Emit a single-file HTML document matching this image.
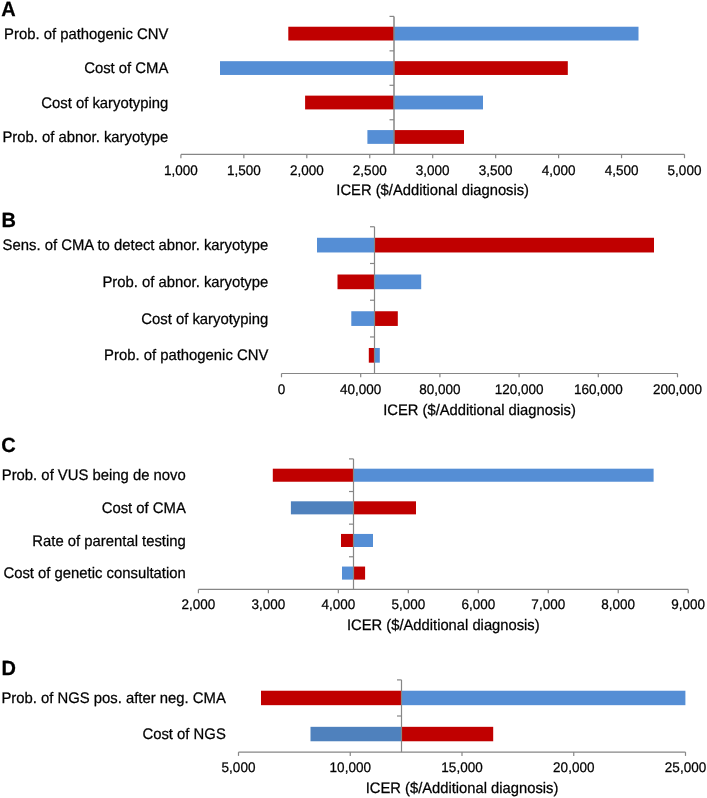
<!DOCTYPE html>
<html><head><meta charset="utf-8"><style>
html,body{margin:0;padding:0;background:#fff;}
svg{display:block;will-change:transform;}
text{font-family:"Liberation Sans",sans-serif;fill:#000;text-rendering:geometricPrecision;stroke:#000;stroke-width:0.25px;}
.let{font-size:20px;font-weight:bold;}
.lab{font-size:14.85px;text-anchor:end;}
.tick{font-size:13.5px;text-anchor:middle;}
.title{font-size:14.75px;text-anchor:middle;}
.ax{stroke:#868686;stroke-width:1.2;}
</style></head><body>
<svg width="707" height="798" viewBox="0 0 707 798">
<text transform="translate(1.20 16.00) scale(1 1.03)" class="let">A</text>
<text transform="translate(168.30 38.73) scale(1 1.03)" class="lab">Prob. of pathogenic CNV</text>
<text transform="translate(168.30 73.17) scale(1 1.03)" class="lab">Cost of CMA</text>
<text transform="translate(168.30 107.62) scale(1 1.03)" class="lab">Cost of karyotyping</text>
<text transform="translate(168.30 142.07) scale(1 1.03)" class="lab">Prob. of abnor. karyotype</text>
<rect x="288.3" y="26.73" width="105.70" height="13.78" fill="#C00000"/>
<rect x="394.0" y="26.73" width="244.50" height="13.78" fill="#558ED5"/>
<rect x="220.0" y="61.18" width="174.00" height="13.78" fill="#558ED5"/>
<rect x="394.0" y="61.18" width="173.80" height="13.78" fill="#C00000"/>
<rect x="305.1" y="95.63" width="88.90" height="13.78" fill="#C00000"/>
<rect x="394.0" y="95.63" width="89.00" height="13.78" fill="#558ED5"/>
<rect x="367.4" y="130.09" width="26.60" height="13.78" fill="#558ED5"/>
<rect x="394.0" y="130.09" width="70.00" height="13.78" fill="#C00000"/>
<line x1="394.0" y1="16.4" x2="394.0" y2="154.4" class="ax" style="stroke-width:1.5px"/>
<line x1="389.5" y1="16.40" x2="394.0" y2="16.40" class="ax"/>
<line x1="389.5" y1="50.85" x2="394.0" y2="50.85" class="ax"/>
<line x1="389.5" y1="85.30" x2="394.0" y2="85.30" class="ax"/>
<line x1="389.5" y1="119.75" x2="394.0" y2="119.75" class="ax"/>
<line x1="180.9" y1="154.4" x2="684.5" y2="154.4" class="ax"/>
<line x1="180.90" y1="154.4" x2="180.90" y2="158.20000000000002" class="ax"/>
<text transform="translate(180.90 174.50) scale(1 1.03)" class="tick">1,000</text>
<line x1="243.85" y1="154.4" x2="243.85" y2="158.20000000000002" class="ax"/>
<text transform="translate(243.85 174.50) scale(1 1.03)" class="tick">1,500</text>
<line x1="306.80" y1="154.4" x2="306.80" y2="158.20000000000002" class="ax"/>
<text transform="translate(306.80 174.50) scale(1 1.03)" class="tick">2,000</text>
<line x1="369.75" y1="154.4" x2="369.75" y2="158.20000000000002" class="ax"/>
<text transform="translate(369.75 174.50) scale(1 1.03)" class="tick">2,500</text>
<line x1="432.70" y1="154.4" x2="432.70" y2="158.20000000000002" class="ax"/>
<text transform="translate(432.70 174.50) scale(1 1.03)" class="tick">3,000</text>
<line x1="495.65" y1="154.4" x2="495.65" y2="158.20000000000002" class="ax"/>
<text transform="translate(495.65 174.50) scale(1 1.03)" class="tick">3,500</text>
<line x1="558.60" y1="154.4" x2="558.60" y2="158.20000000000002" class="ax"/>
<text transform="translate(558.60 174.50) scale(1 1.03)" class="tick">4,000</text>
<line x1="621.55" y1="154.4" x2="621.55" y2="158.20000000000002" class="ax"/>
<text transform="translate(621.55 174.50) scale(1 1.03)" class="tick">4,500</text>
<line x1="684.50" y1="154.4" x2="684.50" y2="158.20000000000002" class="ax"/>
<text transform="translate(684.50 174.50) scale(1 1.03)" class="tick">5,000</text>
<text transform="translate(432.70 195.40) scale(1 1.03)" class="title">ICER ($/Additional diagnosis)</text>
<text transform="translate(1.50 226.60) scale(1 1.03)" class="let">B</text>
<text transform="translate(268.30 250.22) scale(1 1.03)" class="lab">Sens. of CMA to detect abnor. karyotype</text>
<text transform="translate(268.30 286.96) scale(1 1.03)" class="lab">Prob. of abnor. karyotype</text>
<text transform="translate(268.30 323.69) scale(1 1.03)" class="lab">Cost of karyotyping</text>
<text transform="translate(268.30 360.43) scale(1 1.03)" class="lab">Prob. of pathogenic CNV</text>
<rect x="317.0" y="237.77" width="57.50" height="14.70" fill="#558ED5"/>
<rect x="374.5" y="237.77" width="279.50" height="14.70" fill="#C00000"/>
<rect x="337.5" y="274.51" width="37.00" height="14.70" fill="#C00000"/>
<rect x="374.5" y="274.51" width="46.70" height="14.70" fill="#558ED5"/>
<rect x="351.3" y="311.25" width="23.20" height="14.70" fill="#558ED5"/>
<rect x="374.5" y="311.25" width="23.30" height="14.70" fill="#C00000"/>
<rect x="368.8" y="347.98" width="5.70" height="14.70" fill="#C00000"/>
<rect x="374.5" y="347.98" width="5.30" height="14.70" fill="#558ED5"/>
<line x1="374.5" y1="226.75" x2="374.5" y2="373.5" class="ax" style="stroke-width:1.2px"/>
<line x1="370.0" y1="226.75" x2="374.5" y2="226.75" class="ax"/>
<line x1="370.0" y1="263.49" x2="374.5" y2="263.49" class="ax"/>
<line x1="370.0" y1="300.23" x2="374.5" y2="300.23" class="ax"/>
<line x1="370.0" y1="336.96" x2="374.5" y2="336.96" class="ax"/>
<line x1="281.5" y1="373.5" x2="677.5" y2="373.5" class="ax"/>
<line x1="281.50" y1="373.5" x2="281.50" y2="377.3" class="ax"/>
<text transform="translate(281.50 393.80) scale(1 1.03)" class="tick">0</text>
<line x1="360.70" y1="373.5" x2="360.70" y2="377.3" class="ax"/>
<text transform="translate(360.70 393.80) scale(1 1.03)" class="tick">40,000</text>
<line x1="439.90" y1="373.5" x2="439.90" y2="377.3" class="ax"/>
<text transform="translate(439.90 393.80) scale(1 1.03)" class="tick">80,000</text>
<line x1="519.10" y1="373.5" x2="519.10" y2="377.3" class="ax"/>
<text transform="translate(519.10 393.80) scale(1 1.03)" class="tick">120,000</text>
<line x1="598.30" y1="373.5" x2="598.30" y2="377.3" class="ax"/>
<text transform="translate(598.30 393.80) scale(1 1.03)" class="tick">160,000</text>
<line x1="677.50" y1="373.5" x2="677.50" y2="377.3" class="ax"/>
<text transform="translate(677.50 393.80) scale(1 1.03)" class="tick">200,000</text>
<text transform="translate(479.50 414.60) scale(1 1.03)" class="title">ICER ($/Additional diagnosis)</text>
<text transform="translate(1.20 452.20) scale(1 1.03)" class="let">C</text>
<text transform="translate(185.80 480.31) scale(1 1.03)" class="lab">Prob. of VUS being de novo</text>
<text transform="translate(185.80 512.94) scale(1 1.03)" class="lab">Cost of CMA</text>
<text transform="translate(185.80 545.56) scale(1 1.03)" class="lab">Rate of parental testing</text>
<text transform="translate(185.80 578.19) scale(1 1.03)" class="lab">Cost of genetic consultation</text>
<rect x="272.8" y="468.69" width="80.70" height="13.05" fill="#C00000"/>
<rect x="353.5" y="468.69" width="300.10" height="13.05" fill="#558ED5"/>
<rect x="290.9" y="501.31" width="62.60" height="13.05" fill="#4F81BD"/>
<rect x="353.5" y="501.31" width="62.50" height="13.05" fill="#C00000"/>
<rect x="341.0" y="533.94" width="12.50" height="13.05" fill="#C00000"/>
<rect x="353.5" y="533.94" width="19.50" height="13.05" fill="#558ED5"/>
<rect x="342.0" y="566.56" width="11.50" height="13.05" fill="#558ED5"/>
<rect x="353.5" y="566.56" width="11.60" height="13.05" fill="#C00000"/>
<line x1="353.5" y1="458.9" x2="353.5" y2="589.4" class="ax" style="stroke-width:1.2px"/>
<line x1="349.0" y1="458.90" x2="353.5" y2="458.90" class="ax"/>
<line x1="349.0" y1="491.52" x2="353.5" y2="491.52" class="ax"/>
<line x1="349.0" y1="524.15" x2="353.5" y2="524.15" class="ax"/>
<line x1="349.0" y1="556.77" x2="353.5" y2="556.77" class="ax"/>
<line x1="198.4" y1="589.4" x2="688.2" y2="589.4" class="ax"/>
<line x1="198.40" y1="589.4" x2="198.40" y2="593.1999999999999" class="ax"/>
<text transform="translate(198.40 609.00) scale(1 1.03)" class="tick">2,000</text>
<line x1="268.37" y1="589.4" x2="268.37" y2="593.1999999999999" class="ax"/>
<text transform="translate(268.37 609.00) scale(1 1.03)" class="tick">3,000</text>
<line x1="338.34" y1="589.4" x2="338.34" y2="593.1999999999999" class="ax"/>
<text transform="translate(338.34 609.00) scale(1 1.03)" class="tick">4,000</text>
<line x1="408.31" y1="589.4" x2="408.31" y2="593.1999999999999" class="ax"/>
<text transform="translate(408.31 609.00) scale(1 1.03)" class="tick">5,000</text>
<line x1="478.29" y1="589.4" x2="478.29" y2="593.1999999999999" class="ax"/>
<text transform="translate(478.29 609.00) scale(1 1.03)" class="tick">6,000</text>
<line x1="548.26" y1="589.4" x2="548.26" y2="593.1999999999999" class="ax"/>
<text transform="translate(548.26 609.00) scale(1 1.03)" class="tick">7,000</text>
<line x1="618.23" y1="589.4" x2="618.23" y2="593.1999999999999" class="ax"/>
<text transform="translate(618.23 609.00) scale(1 1.03)" class="tick">8,000</text>
<line x1="688.20" y1="589.4" x2="688.20" y2="593.1999999999999" class="ax"/>
<text transform="translate(688.20 609.00) scale(1 1.03)" class="tick">9,000</text>
<text transform="translate(443.30 629.90) scale(1 1.03)" class="title">ICER ($/Additional diagnosis)</text>
<text transform="translate(1.40 674.80) scale(1 1.03)" class="let">D</text>
<text transform="translate(225.80 703.05) scale(1 1.03)" class="lab">Prob. of NGS pos. after neg. CMA</text>
<text transform="translate(225.80 739.15) scale(1 1.03)" class="lab">Cost of NGS</text>
<rect x="261.0" y="690.73" width="140.50" height="14.44" fill="#C00000"/>
<rect x="401.5" y="690.73" width="283.90" height="14.44" fill="#558ED5"/>
<rect x="310.5" y="726.83" width="91.00" height="14.44" fill="#4F81BD"/>
<rect x="401.5" y="726.83" width="91.70" height="14.44" fill="#C00000"/>
<line x1="401.5" y1="679.9" x2="401.5" y2="752.1" class="ax" style="stroke-width:1.2px"/>
<line x1="397.0" y1="679.90" x2="401.5" y2="679.90" class="ax"/>
<line x1="397.0" y1="716.00" x2="401.5" y2="716.00" class="ax"/>
<line x1="238.5" y1="752.1" x2="685.5" y2="752.1" class="ax"/>
<line x1="238.50" y1="752.1" x2="238.50" y2="755.9" class="ax"/>
<text transform="translate(238.50 772.00) scale(1 1.03)" class="tick">5,000</text>
<line x1="350.25" y1="752.1" x2="350.25" y2="755.9" class="ax"/>
<text transform="translate(350.25 772.00) scale(1 1.03)" class="tick">10,000</text>
<line x1="462.00" y1="752.1" x2="462.00" y2="755.9" class="ax"/>
<text transform="translate(462.00 772.00) scale(1 1.03)" class="tick">15,000</text>
<line x1="573.75" y1="752.1" x2="573.75" y2="755.9" class="ax"/>
<text transform="translate(573.75 772.00) scale(1 1.03)" class="tick">20,000</text>
<line x1="685.50" y1="752.1" x2="685.50" y2="755.9" class="ax"/>
<text transform="translate(685.50 772.00) scale(1 1.03)" class="tick">25,000</text>
<text transform="translate(462.00 792.90) scale(1 1.03)" class="title">ICER ($/Additional diagnosis)</text>
</svg>
</body></html>
